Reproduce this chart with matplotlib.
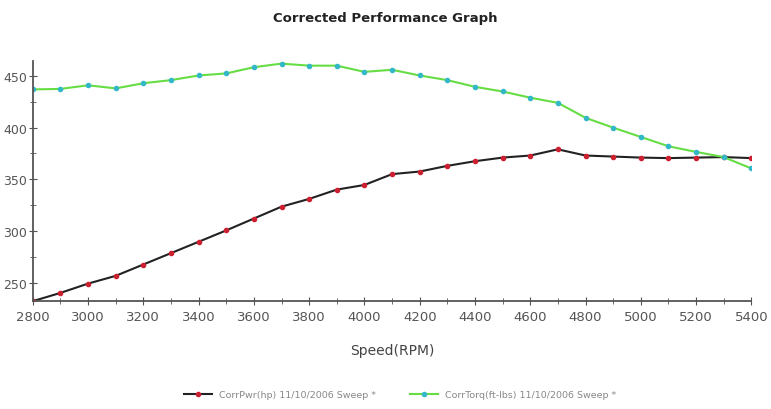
import numpy as np
from matplotlib import pyplot as plt

rpm = [2800, 2900, 3000, 3100, 3200, 3300, 3400, 3500, 3600, 3700, 3800, 3900, 4000, 4100,
       4200, 4300, 4400, 4500, 4600, 4700, 4800, 4900, 5000, 5100, 5200, 5300, 5400]
corr_hp = [232, 240, 249, 256.5, 267.5, 278.5, 289.5, 300.5, 312, 323.5, 331, 340, 344.5, 355,
           357.5, 363, 367.5, 371, 373, 379, 373, 372, 371, 370.5, 371, 371.5, 370.5]
corr_torq = [437, 437.5, 441, 438, 443, 446, 450.5, 452.5, 458.5, 462, 460, 460, 454, 456,
             450.5, 446, 439.5, 435, 429, 424, 409.5, 400, 391, 382, 376.5, 371.5, 360.5]
legend_labels = ["CorrPwr(hp) 11/10/2006 Sweep *", "CorrTorq(ft-lbs) 11/10/2006 Sweep *"]

fig = plt.figure(figsize=(7.71, 4.10), dpi=100)
ax = fig.add_axes([0.0425, 0.263, 0.932, 0.587])

ax.plot(rpm, corr_hp, color='#222222', lw=1.5, marker='o', ms=3,
        mfc='#cc2030', mec='#cc2030', label=legend_labels[0])
ax.plot(rpm, corr_torq, color='#66dd44', lw=1.5, marker='o', ms=3,
        mfc='#33b8c8', mec='#33b8c8', label=legend_labels[1])

ax.set_xlim(2800, 5400)
ax.set_ylim(232, 465)
ax.set_xticks(np.arange(2800, 5401, 200))
ax.set_xticks(np.arange(2800, 5401, 100), minor=True)
ax.set_yticks([250, 300, 350, 400, 450])
ax.set_yticks(np.arange(250, 451, 25), minor=True)
ax.tick_params(which='both', direction='inout', colors='#555555', labelsize=9.5)
ax.tick_params(which='major', length=6)
ax.tick_params(which='minor', length=4)
ax.tick_params(axis='y', labelsize=9, pad=1)
for s in ['top', 'right']:
    ax.spines[s].set_visible(False)
for s in ['left', 'bottom']:
    ax.spines[s].set_color('#555555')
    ax.spines[s].set_linewidth(1.3)

fig.text(0.5, 0.955, "Corrected Performance Graph", ha='center', va='center',
         fontsize=9.5, fontweight='bold', color='#222222')
ax.set_xlabel("Speed(RPM)", fontsize=10, color='#444444', labelpad=14)

fig.legend(loc='center', bbox_to_anchor=(0.519, 0.035), ncol=2, frameon=False,
           fontsize=6.8, handlelength=3, columnspacing=3.5, labelcolor='#888888')

plt.savefig("out.png", dpi=100)
